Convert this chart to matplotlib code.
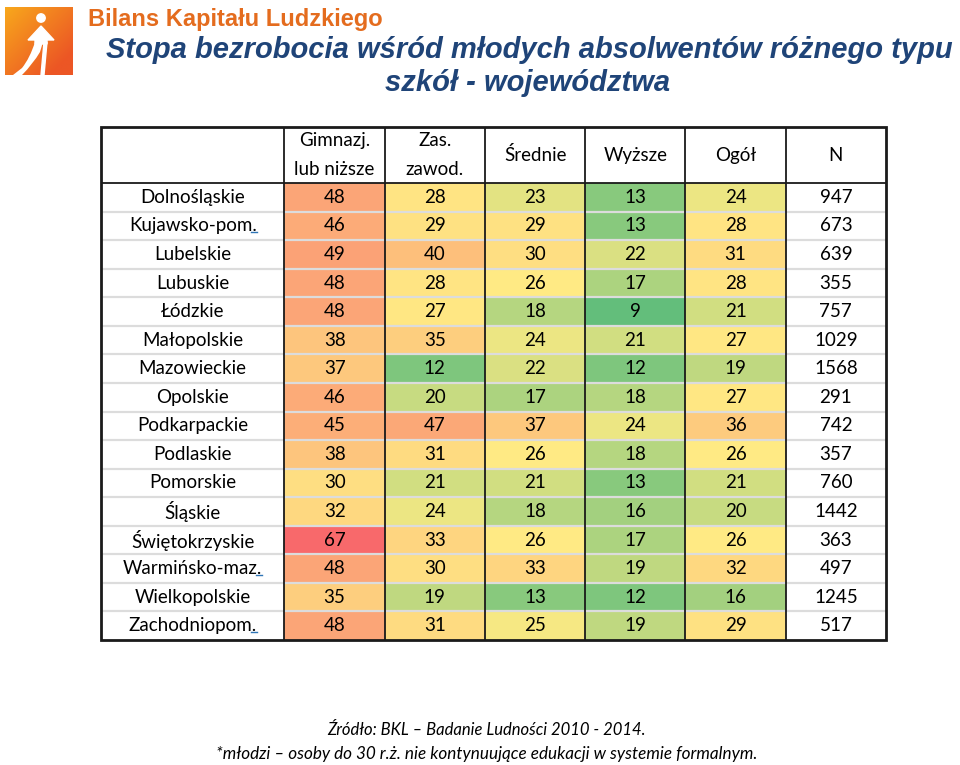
import numpy as np
import matplotlib
matplotlib.use("Agg")
import matplotlib.pyplot as plt
from matplotlib.colors import LinearSegmentedColormap, TwoSlopeNorm
from matplotlib.patches import Rectangle, Circle, Polygon, PathPatch
from matplotlib.path import Path

# ---------------- data ----------------
regions = ["Dolnośląskie", "Kujawsko-pom.", "Lubelskie", "Lubuskie", "Łódzkie",
           "Małopolskie", "Mazowieckie", "Opolskie", "Podkarpackie", "Podlaskie",
           "Pomorskie", "Śląskie", "Świętokrzyskie", "Warmińsko-maz.",
           "Wielkopolskie", "Zachodniopom."]
columns = ["Gimnazj.\nlub niższe", "Zas.\nzawod.", "Średnie", "Wyższe", "Ogół", "N"]
gimnazj = [48, 46, 49, 48, 48, 38, 37, 46, 45, 38, 30, 32, 67, 48, 35, 48]
zasadnicze = [28, 29, 40, 28, 27, 35, 12, 20, 47, 31, 21, 24, 33, 30, 19, 31]
srednie = [23, 29, 30, 26, 18, 24, 22, 17, 37, 26, 21, 18, 26, 33, 13, 25]
wyzsze = [13, 13, 22, 17, 9, 21, 12, 18, 24, 18, 13, 16, 17, 19, 12, 19]
ogol = [24, 28, 31, 28, 21, 27, 19, 27, 36, 26, 21, 20, 26, 32, 16, 29]
n_resp = [947, 673, 639, 355, 757, 1029, 1568, 291, 742, 357, 760, 1442, 363,
          497, 1245, 517]
underlined_dot = ["Kujawsko-pom.", "Warmińsko-maz.", "Zachodniopom."]

title_top = "Bilans Kapitału Ludzkiego"
title_1 = "Stopa bezrobocia wśród młodych absolwentów różnego typu"
title_2 = "szkół - województwa"
footer_1 = "Źródło: BKL – Badanie Ludności 2010 - 2014."
footer_2 = "*młodzi – osoby do 30 r.ż. nie kontynuujące edukacji w systemie formalnym."

# ---------------- figure ----------------
W, H = 960, 765
fig = plt.figure(figsize=(9.6, 7.65), dpi=100)
fig.patch.set_facecolor("white")
bg = fig.add_axes([0, 0, 1, 1])
bg.set_xlim(0, W)
bg.set_ylim(H, 0)
bg.axis("off")

# logo: orange gradient square
gx, gy = np.meshgrid(np.linspace(0, 1, 80), np.linspace(0, 1, 80))
t = np.clip((gx * 0.6 + gy * 0.6), 0, 1)
c1 = np.array([0xF8, 0xA8, 0x1C]) / 255
c2 = np.array([0xEC, 0x56, 0x25]) / 255
grad = c1[None, None, :] * (1 - t[..., None]) + c2[None, None, :] * t[..., None]
bg.imshow(grad, extent=(5, 73, 75, 7), zorder=1, interpolation="bilinear")
bg.add_patch(Circle((41, 18), 4.2, color="white", zorder=2))
# arrow head
bg.add_patch(Polygon([(41, 26), (28, 40), (35, 40), (35, 44), (47, 44), (47, 40), (54, 40)],
                     closed=True, color="white", zorder=2))
# thick curve to bottom-left
verts = [(35, 42), (30, 58), (22, 68), (13, 75), (22, 75), (33, 64), (40, 52), (43, 42), (35, 42)]
codes = [Path.MOVETO, Path.CURVE3, Path.CURVE3, Path.LINETO, Path.LINETO,
         Path.CURVE3, Path.CURVE3, Path.LINETO, Path.CLOSEPOLY]
bg.add_patch(PathPatch(Path(verts, codes), color="white", lw=0, zorder=2))
# thin stroke down
bg.add_patch(Polygon([(44, 42), (47, 42), (44, 75), (41, 75)], closed=True,
                     color="white", zorder=2))

bg.text(88, 19, title_top, fontsize=17, fontweight="bold", color="#E46C1E",
        family="Liberation Sans", ha="left", va="center")
bg.text(953, 50, title_1, fontsize=21, fontweight="bold", style="italic",
        color="#1F4478", family="Liberation Sans", ha="right", va="center")
bg.text(528, 83, title_2, fontsize=21, fontweight="bold", style="italic",
        color="#1F4478", family="Liberation Sans", ha="center", va="center")

bg.text(486, 730, footer_1, fontsize=12, style="italic", family="Lato",
        ha="center", va="center", color="black")
bg.text(487, 754, footer_2, fontsize=12.3, style="italic", family="Lato",
        ha="center", va="center", color="black")

# ---------------- table ----------------
left, right, top, bottom = 101, 886, 127, 640
tax = fig.add_axes([left / W, 1 - bottom / H, (right - left) / W, (bottom - top) / H])
tax.axis("off")
label_w = 1.83
n_rows = len(regions)
hdr = 56 / 28.5
widths = [label_w] + [1.0] * len(columns)
edges = np.concatenate([[0], np.cumsum(widths)])
tax.set_xlim(0, edges[-1])
tax.set_ylim(n_rows, -hdr)

values = np.array([gimnazj, zasadnicze, srednie, wyzsze, ogol]).T
cmap = LinearSegmentedColormap.from_list("rag", ["#63BE7B", "#FFEB84", "#F8696B"])
norm = TwoSlopeNorm(vmin=values.min(), vcenter=np.median(values), vmax=values.max())

font = "Lato"
fs = 13.5
for i, reg in enumerate(regions):
    tax.text(edges[0] + label_w / 2, i + 0.5, reg, ha="center", va="center",
             fontsize=fs, family=font, color="black")
    for j in range(values.shape[1]):
        v = values[i, j]
        tax.add_patch(Rectangle((edges[j + 1], i), 1, 1, facecolor=cmap(norm(v)),
                                edgecolor="none", zorder=1))
        tax.text(edges[j + 1] + 0.5, i + 0.5, str(v), ha="center", va="center",
                 fontsize=fs, family=font, color="black", zorder=3)
    tax.text(edges[-2] + 0.5, i + 0.5, str(n_resp[i]), ha="center", va="center",
             fontsize=fs, family=font, color="black", zorder=3)

for j, col in enumerate(columns):
    tax.text(edges[j + 1] + 0.5, -hdr / 2, col, ha="center", va="center",
             fontsize=fs, family=font, color="black", linespacing=1.8)

# row separators (light)
for i in range(1, n_rows):
    tax.plot([0, edges[-1]], [i, i], color="#DCDCDC", lw=1.6, zorder=2,
             solid_capstyle="butt")
# vertical separators (dark)
for x in edges[1:-1]:
    tax.plot([x, x], [-hdr, n_rows], color="#1a1a1a", lw=1.3, zorder=4)
# header bottom
tax.plot([0, edges[-1]], [0, 0], color="#1a1a1a", lw=1.3, zorder=4)
# outer border
tax.add_patch(Rectangle((0, -hdr), edges[-1], n_rows + hdr, fill=False,
                        edgecolor="#1a1a1a", lw=2, zorder=5, clip_on=False))

# underline final dots
fig.canvas.draw()
r = fig.canvas.get_renderer()
for txt in tax.texts:
    if txt.get_text() in underlined_dot:
        bb = txt.get_window_extent(r)
        x1 = bb.x1
        y = bb.y0 + 2
        disp = [(x1 - 6, y), (x1, y)]
        dat = bg.transData.inverted().transform(disp)
        bg.plot(dat[:, 0], dat[:, 1], color="#2E75B6", lw=1.0, zorder=6)

fig.savefig("out.png", dpi=100, facecolor="white")
